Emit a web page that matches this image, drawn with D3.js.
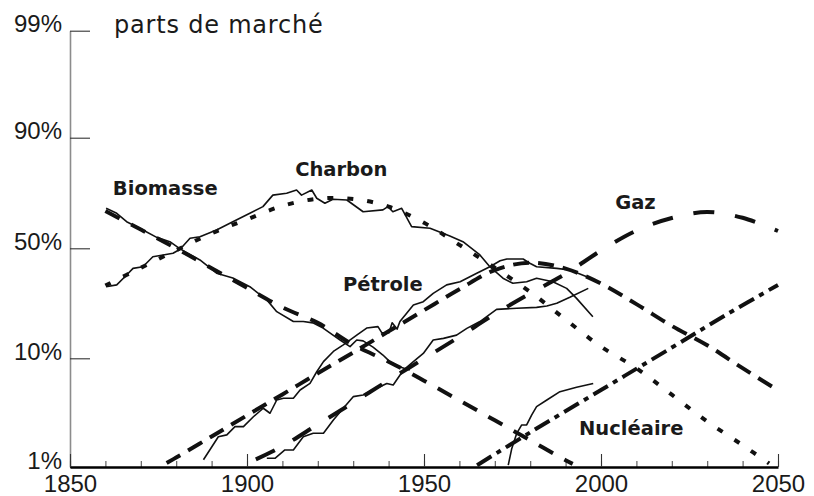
<!DOCTYPE html>
<html>
<head>
<meta charset="utf-8">
<script src="https://cdn.jsdelivr.net/npm/d3@7"></script>
<style>
  body { margin: 0; background: #fff; }
  svg { display: block; }
</style>
</head>
<body>
<div id="chart"></div>
<script>
// parts de marché des sources d'énergie primaire (%), échelle logistique
const yTickShares = [1, 10, 50, 90, 99];
const xTickYears = [1850, 1900, 1950, 2000, 2050];
const sources = ["Biomasse", "Charbon", "Pétrole", "Gaz", "Nucléaire"];

// observed shares [year, %]
const biomasseObs = [[1860.2,68.9],[1863.2,66.7],[1866.0,62.9],[1870.6,59.0],[1874.5,55.4],[1878.2,53.3],[1881.1,49.7],
  [1886.7,44.2],[1891.4,37.8],[1896.0,35.6],[1900.8,31.7],[1905.6,26.3],[1908.4,22.0],[1913.1,18.8],[1915.9,18.8],
  [1918.6,18.4],[1921.5,16.9],[1924.3,15.0],[1926.3,13.8],[1929.1,12.3],[1931.0,13.8],[1932.8,13.6],[1935.6,12.2],
  [1938.4,10.6],[1940.4,9.3],[1943.2,8.4],[1946.0,7.9]];
const charbonObs = [[1860.2,31.7],[1863.2,32.5],[1866.0,37.0],[1867.8,40.1],[1870.6,40.9],[1873.4,45.8],[1876.3,46.7],
  [1879.1,47.5],[1881.1,49.5],[1883.9,55.0],[1886.7,55.7],[1891.4,59.0],[1896.0,62.9],[1900.8,66.7],[1904.5,69.6],
  [1907.3,74.2],[1911.2,74.9],[1914.0,76.1],[1915.4,74.2],[1918.3,76.1],[1919.7,73.0],[1922.0,71.0],[1924.3,72.6],
  [1928.2,72.3],[1932.8,67.4],[1938.4,68.2],[1939.8,69.6],[1941.2,67.4],[1943.7,68.9],[1946.5,60.6],[1951.7,59.8],
  [1957.3,56.1],[1961.0,53.3],[1965.8,46.7],[1968.6,40.9],[1972.3,35.5],[1975.1,33.2],[1979.0,33.9],[1981.8,35.5],
  [1986.4,33.9],[1990.3,31.0],[1993.1,26.9],[1997.7,20.3]];
const petroleObs = [[1887.7,1.17],[1891.9,1.93],[1894.3,2.01],[1896.6,2.40],[1899.0,2.40],[1901.8,2.97],[1904.6,3.56],
  [1906.5,3.20],[1908.4,4.24],[1910.3,4.40],[1913.1,4.40],[1915.0,5.23],[1917.8,6.0],[1919.7,7.63],[1921.6,9.35],
  [1924.4,11.3],[1927.2,12.7],[1931.0,15.0],[1933.8,16.9],[1937.0,17.3],[1938.1,15.6],[1940.1,15.6],[1941.0,18.4],
  [1942.4,16.6],[1943.2,18.8],[1945.1,21.5],[1947.0,24.4],[1949.8,25.6],[1952.6,28.9],[1956.4,32.5],[1960.2,33.9],
  [1964.9,37.8],[1968.6,40.9],[1971.5,43.8],[1973.4,44.7],[1978.0,44.7],[1979.9,42.6],[1981.8,40.9],[1987.5,40.1],
  [1991.2,39.3],[1996.0,36.2]];
const gazObs = [[1905.6,1.21],[1907.9,1.21],[1910.7,1.45],[1913.1,1.45],[1915.9,1.93],[1918.7,2.08],[1921.6,2.08],
  [1924.4,2.77],[1927.2,3.56],[1930.0,4.55],[1932.8,4.71],[1936.6,5.42],[1939.5,6.0],[1941.3,5.8],[1944.2,7.9],
  [1947.0,9.35],[1949.8,10.9],[1952.6,13.8],[1955.5,14.2],[1959.2,15.0],[1962.1,16.8],[1965.8,18.8],[1970.5,22.8],
  [1976.2,23.2],[1981.8,23.5],[1984.7,24.0],[1987.5,25.0],[1991.2,27.3],[1996.4,31.0]];
const nucleaireObs = [[1973.8,1.04],[1974.8,1.50],[1976.2,2.08],[1977.6,2.49],[1979.0,2.49],[1980.4,3.08],[1981.8,3.68],
  [1984.7,4.24],[1988.4,5.05],[1993.1,5.54],[1997.8,6.0]];

// fitted substitution curves [year, %]
const biomasseFit = [[1860,67.7],[1870,59.2],[1880,50.0],[1890,40.2],[1900,31.2],[1910,23.5],[1920,18.4],[1930,12.7],
  [1940,9.35],[1950,6.35],[1960,4.2],[1970,2.75],[1980,1.79],[1990,1.16],[1992,1.07]];
const charbonFit = [[1860,32.2],[1870,40.4],[1880,49.0],[1890,57.4],[1900,64.0],[1910,69.9],[1920,72.8],[1930,72.7],
  [1940,69.6],[1950,62.4],[1960,51.7],[1970,40.4],[1980,29.5],[1990,19.4],[2000,12.3],[2010,8.2],[2020,4.74],
  [2030,2.68],[2040,1.61],[2047.5,1.08]];
const petroleFit = [[1877.3,1.09],[1880,1.23],[1890,1.94],[1900,3.06],[1910,4.77],[1920,7.39],[1930,11.1],[1940,16.0],
  [1950,22.5],[1960,30.6],[1970,39.3],[1980,42.9],[1990,40.0],[2000,33.1],[2010,24.7],[2020,17.5],[2030,12.6],
  [2040,8.2],[2050,5.2]];
const gazFit = [[1902.5,1.18],[1910,1.57],[1920,2.52],[1930,4.02],[1940,6.4],[1950,9.94],[1960,14.6],[1970,21.2],
  [1980,28.9],[1990,37.5],[2000,48.9],[2010,58.7],[2020,64.6],[2030,67.3],[2040,64.7],[2050,58.5]];
const nucleaireFit = [[1965,1.04],[1980,2.12],[2000,5.23],[2020,12.1],[2035,20.7],[2050,32.5]];

drawChart('#chart');

function drawChart(chartId) {
    const pageWidth = 814;
    const pageHeight = 496;
    const left = 70, right = 778;
    const bottom = 467;
    const labelFont = '"Liberation Sans", Arial, sans-serif';
    const nameFont = '"DejaVu Sans", Verdana, sans-serif';

    const svg = d3.select(chartId)
        .append("svg")
        .attr("width", pageWidth)
        .attr("height", pageHeight);

    const logit = p => Math.log(p / (100 - p));

    const x = d3.scaleLinear()
        .domain([1850, 2050])
        .range([left, right]);

    // tick marks are drawn evenly, so the logit scale is piecewise between them
    const yLogit = d3.scaleLinear()
        .domain(yTickShares.map(logit))
        .range([bottom, 358.3, 248.3, 137.7, 30.7]);
    const y = p => yLogit(logit(p));

    // y axis
    const yAxis = svg.append("g")
        .attr("transform", "translate(" + left + ",0)")
        .call(d3.axisLeft(yLogit)
            .tickValues(yTickShares.map(logit))
            .tickFormat((d, i) => yTickShares[i] + "%")
            .tickSizeInner(-20)
            .tickSizeOuter(0)
            .tickPadding(8));
    yAxis.select(".domain").attr("stroke", "#8c8c8c").attr("stroke-width", 1.6);
    yAxis.selectAll(".tick line").attr("stroke", "#333").attr("stroke-width", 1.1);
    yAxis.selectAll(".tick text")
        .attr("font-family", labelFont)
        .attr("font-size", 24)
        .attr("fill", "#1a1a1a")
        .attr("dy", "0.05em");

    // x axis: minor ticks every 10 years, major ones every 50
    const xMinor = svg.append("g")
        .attr("transform", "translate(0," + bottom + ")")
        .call(d3.axisBottom(x)
            .tickValues(d3.range(1850, 2051, 10))
            .tickFormat("")
            .tickSizeInner(-6)
            .tickSizeOuter(0));
    xMinor.select(".domain").remove();
    xMinor.selectAll(".tick line").attr("stroke", "#555").attr("stroke-width", 1.1);

    const xAxis = svg.append("g")
        .attr("transform", "translate(0," + bottom + ")")
        .call(d3.axisBottom(x)
            .tickValues(xTickYears)
            .tickFormat(d3.format("d"))
            .tickSizeInner(-13)
            .tickSizeOuter(0)
            .tickPadding(8));
    xAxis.select(".domain").attr("stroke", "#000").attr("stroke-width", 2.6);
    xAxis.selectAll(".tick line").attr("stroke", "#333").attr("stroke-width", 1.1);
    xAxis.selectAll(".tick text")
        .attr("font-family", labelFont)
        .attr("font-size", 24)
        .attr("fill", "#1a1a1a");

    svg.append("text")
        .attr("x", 114)
        .attr("y", 33)
        .attr("font-family", nameFont)
        .attr("font-size", 24)
        .attr("letter-spacing", 0.8)
        .attr("fill", "#1a1a1a")
        .text("parts de marché");

    const series = [
        {name: sources[0], obs: biomasseObs, fit: biomasseFit, dash: "16,13"},
        {name: sources[1], obs: charbonObs, fit: charbonFit, dash: "6,14"},
        {name: sources[2], obs: petroleObs, fit: petroleFit, dash: "16,9"},
        {name: sources[3], obs: gazObs, fit: gazFit, dash: "21,21"},
        {name: sources[4], obs: nucleaireObs, fit: nucleaireFit, dash: "17,6,5,6"}
    ];

    const obsLine = d3.line()
        .x(d => x(d[0]))
        .y(d => y(d[1]));

    const fitLine = d3.line()
        .x(d => x(d[0]))
        .y(d => y(d[1]))
        .curve(d3.curveCatmullRom.alpha(0.5));

    svg.append("g").selectAll("path")
        .data(series)
        .enter().append("path")
        .attr("d", d => obsLine(d.obs))
        .attr("fill", "none")
        .attr("stroke", "#111")
        .attr("stroke-width", 1.6)
        .attr("stroke-linejoin", "round");

    svg.append("g").selectAll("path")
        .data(series)
        .enter().append("path")
        .attr("d", d => fitLine(d.fit))
        .attr("fill", "none")
        .attr("stroke", "#111")
        .attr("stroke-width", 4)
        .attr("stroke-dasharray", d => d.dash);

    // names, anchored at (year, %)
    const labelAt = {
        "Biomasse": [1862.1, 74.2],
        "Charbon": [1913.6, 80.8],
        "Pétrole": [1927.1, 30.0],
        "Gaz": [2004, 68.5],
        "Nucléaire": [1993.8, 2.0]
    };

    svg.append("g").selectAll("text")
        .data(sources)
        .enter().append("text")
        .attr("x", d => x(labelAt[d][0]))
        .attr("y", d => y(labelAt[d][1]))
        .attr("font-family", nameFont)
        .attr("font-weight", "bold")
        .attr("font-size", 19.5)
        .attr("fill", "#1a1a1a")
        .text(d => d);
}
</script>
</body>
</html>
